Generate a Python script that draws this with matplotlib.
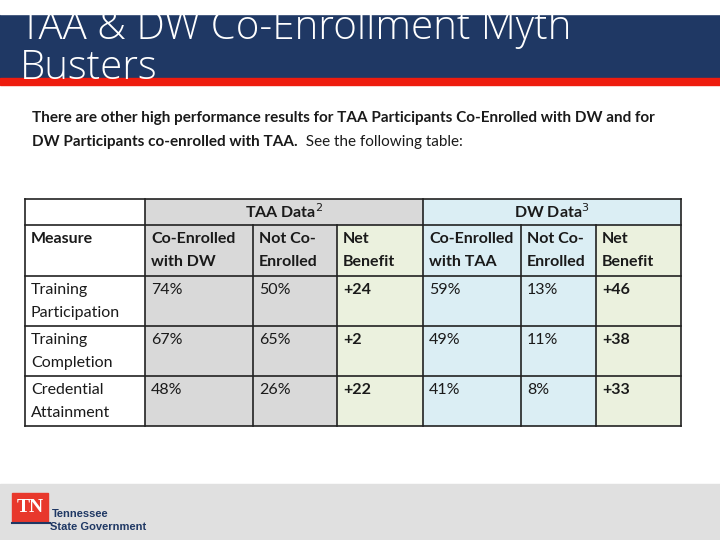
import matplotlib.pyplot as plt
from matplotlib.patches import Rectangle

# table data
measures = ["Training\nParticipation", "Training\nCompletion", "Credential\nAttainment"]
taa_co = ["74%", "67%", "48%"]
taa_not = ["50%", "65%", "26%"]
taa_net = ["+24", "+2", "+22"]
dw_co = ["59%", "49%", "41%"]
dw_not = ["13%", "11%", "8%"]
dw_net = ["+46", "+38", "+33"]
sub_heads = ["Measure", "Co-Enrolled\nwith DW", "Not Co-\nEnrolled", "Net\nBenefit",
             "Co-Enrolled\nwith TAA", "Not Co-\nEnrolled", "Net\nBenefit"]

FONT = "Lato"
NAVY = "#1f3864"
GRAY = "#d9d9d9"
GREEN = "#ebf1de"
BLUE = "#dbeef4"
FS = 11.5

fig = plt.figure(figsize=(7.2, 5.4), dpi=100)
ax = fig.add_axes([0, 0, 1, 1])
ax.set_xlim(0, 720)
ax.set_ylim(540, 0)
ax.axis("off")

# header band
ax.add_patch(Rectangle((0, 14), 720, 65, color=NAVY, zorder=1))
ax.add_patch(Rectangle((0, 78), 720, 7, color="#ee1c0e", zorder=1))
ax.text(20, 79, "TAA & DW Co-Enrollment Myth\nBusters", color="white", fontsize=29,
        family="Open Sans", fontweight="light", va="baseline", ha="left",
        linespacing=0.98, zorder=2)
ax.add_patch(Rectangle((0, -30), 720, 44, color="white", zorder=3))

# intro text
ax.text(32, 118, "There are other high performance results for TAA Participants Co-Enrolled with DW and for",
        fontsize=11, family=FONT, fontweight="bold", va="center", color="#1a1a1a")
t = ax.text(32, 142, "DW Participants co-enrolled with TAA.", fontsize=11, family=FONT,
            fontweight="bold", va="center", color="#1a1a1a")
ax.annotate("  See the following table:", xy=(1, 0.5), xycoords=t, fontsize=11, family=FONT,
            va="center", ha="left", color="#1a1a1a")

# table geometry
xs = [25, 145, 253, 337, 423, 521, 596, 681]
ys = [199, 225, 276, 326, 376, 426]
fills = ["white", GRAY, GRAY, GREEN, BLUE, BLUE, GREEN]

ax.add_patch(Rectangle((xs[0], ys[0]), xs[1] - xs[0], ys[1] - ys[0], fc="white", ec="none"))
ax.add_patch(Rectangle((xs[1], ys[0]), xs[4] - xs[1], ys[1] - ys[0], fc=GRAY, ec="none"))
ax.add_patch(Rectangle((xs[4], ys[0]), xs[7] - xs[4], ys[1] - ys[0], fc=BLUE, ec="none"))
for r in range(1, 5):
    for c in range(7):
        ax.add_patch(Rectangle((xs[c], ys[r]), xs[c + 1] - xs[c], ys[r + 1] - ys[r],
                               fc=fills[c], ec="none"))

lw = 1.2
for y in ys:
    ax.plot([xs[0], xs[7]], [y, y], color="#222222", lw=lw)
for i, x in enumerate(xs):
    top = ys[0] if i in (0, 1, 4, 7) else ys[1]
    ax.plot([x, x], [top, ys[-1]], color="#222222", lw=lw)

ax.text((xs[1] + xs[4]) / 2, 212, "TAA Data$^2$", fontsize=FS, family=FONT, fontweight="bold",
        ha="center", va="center", color="#1a1a1a")
ax.text((xs[4] + xs[7]) / 2, 212, "DW Data$^3$", fontsize=FS, family=FONT, fontweight="bold",
        ha="center", va="center", color="#1a1a1a")

for c, h in enumerate(sub_heads):
    ax.text(xs[c] + 6, ys[1] + 7, h, fontsize=FS, family=FONT, fontweight="bold",
            ha="left", va="top", linespacing=1.85, color="#1a1a1a")

cols = [measures, taa_co, taa_not, taa_net, dw_co, dw_not, dw_net]
for c, col in enumerate(cols):
    for r, val in enumerate(col):
        bold = c in (3, 6)
        ax.text(xs[c] + 6, ys[r + 2] + 7, val, fontsize=FS, family=FONT,
                fontweight="bold" if bold else "normal", ha="left", va="top",
                linespacing=1.85, color="#1a1a1a")

# footer
ax.add_patch(Rectangle((0, 484), 720, 56, color="#e0e0e0"))
ax.add_patch(Rectangle((12, 493), 36, 29, color="#e8382c"))
ax.text(30, 508, "TN", color="white", fontsize=14, family="Liberation Serif",
        fontweight="bold", ha="center", va="center")
ax.plot([12, 50], [523, 523], color=NAVY, lw=1.5)
ax.text(52, 514, "Tennessee", fontsize=8, family="Liberation Sans", fontweight="bold",
        color=NAVY, va="center")
ax.text(50, 527, "State Government", fontsize=8, family="Liberation Sans", fontweight="bold",
        color=NAVY, va="center")

fig.savefig("out.png", dpi=100)
